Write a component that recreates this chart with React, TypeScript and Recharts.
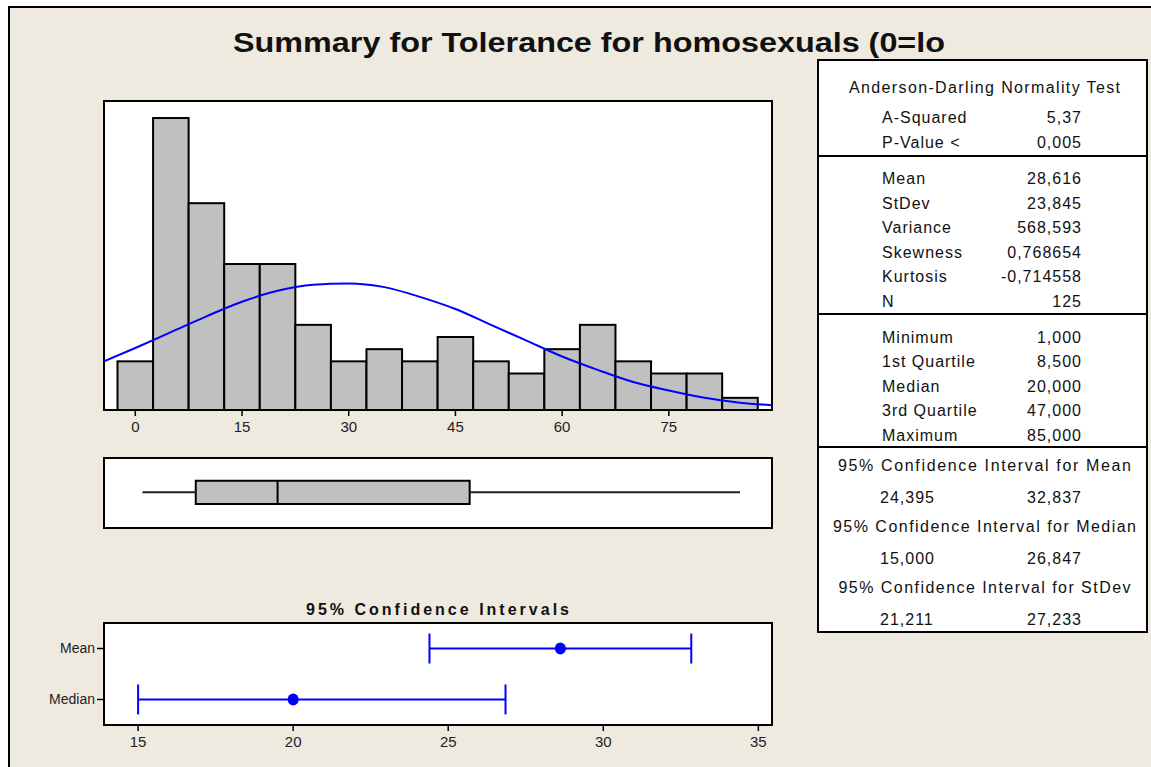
import {
  ComposedChart,
  Bar,
  Line,
  XAxis,
  YAxis,
  ReferenceArea,
  ReferenceLine,
  ScatterChart,
  Scatter,
  ErrorBar,
} from 'recharts';

// Histogram: bin centers (width 5) and counts, N = 125
const BIN_CENTERS = [0, 5, 10, 15, 20, 25, 30, 35, 40, 45, 50, 55, 60, 65, 70, 75, 80, 85];
const BIN_COUNTS = [4, 24, 17, 12, 12, 7, 4, 5, 4, 6, 4, 3, 5, 7, 4, 3, 3, 1];
// fitted normal curve (in counts)
const CURVE_X = [-4.4, 0, 5, 10, 15, 20, 25, 30, 35, 40, 45, 50, 55, 60, 65, 70, 75, 80, 85, 89.5];
const CURVE_Y = [4.0, 5.1, 6.4, 7.7, 8.9, 9.8, 10.3, 10.4, 10.1, 9.3, 8.3, 7.0, 5.7, 4.4, 3.3, 2.3, 1.6, 1.0, 0.6, 0.4];
const HIST_TICKS = [0, 15, 30, 45, 60, 75];
const X_DOMAIN: [number, number] = [-4.4, 89.5];
const Y_MAX = 25.4;

// boxplot five-number summary
const BOX_STATS = { min: 1, q1: 8.5, median: 20, q3: 47, max: 85 };

// 95% confidence intervals
const CI_NAMES = ['Mean', 'Median'];
const CI_EST = [28.616, 20];
const CI_LOW = [24.395, 15];
const CI_HIGH = [32.837, 26.847];
const CI_TICKS = [15, 20, 25, 30, 35];
const CI_DOMAIN: [number, number] = [13.9, 35.44];

// summary table
const AD_ROWS = [
  ['A-Squared', '5,37'],
  ['P-Value <', '0,005'],
];
const MOMENT_ROWS = [
  ['Mean', '28,616'],
  ['StDev', '23,845'],
  ['Variance', '568,593'],
  ['Skewness', '0,768654'],
  ['Kurtosis', '-0,714558'],
  ['N', '125'],
];
const QUANTILE_ROWS = [
  ['Minimum', '1,000'],
  ['1st Quartile', '8,500'],
  ['Median', '20,000'],
  ['3rd Quartile', '47,000'],
  ['Maximum', '85,000'],
];
const CI_TABLE = [
  ['95% Confidence Interval for Mean', '24,395', '32,837'],
  ['95% Confidence Interval for Median', '15,000', '26,847'],
  ['95% Confidence Interval for StDev', '21,211', '27,233'],
];

const TITLE = 'Summary for Tolerance for homosexuals (0=lo';

const FONT = '"Liberation Sans", Arial, sans-serif';
const BG = '#EEEAE0';
const BAR_FILL = '#C0C0C0';
const BLUE = '#0000FF';
const INK = '#111';

const HIST = { left: 104, top: 101, width: 668, height: 309 };
const PX_PER_UNIT = HIST.width / (X_DOMAIN[1] - X_DOMAIN[0]);
const BIN_W = BIN_CENTERS[1] - BIN_CENTERS[0];

const histData = CURVE_X.map((x, i) => {
  const bi = BIN_CENTERS.indexOf(x);
  return { x, curve: CURVE_Y[i], count: bi >= 0 ? BIN_COUNTS[bi] : undefined };
});

const ciData = CI_NAMES.map((name, i) => ({
  name,
  est: CI_EST[i],
  err: [CI_EST[i] - CI_LOW[i], CI_HIGH[i] - CI_EST[i]],
}));

function HistBar(props: any) {
  const { x, y, width, height } = props;
  if (!height || height <= 0) return null;
  const w = BIN_W * PX_PER_UNIT;
  const cx = x + width / 2;
  return <rect x={cx - w / 2} y={y} width={w} height={height} fill={BAR_FILL} stroke="#000" strokeWidth={2} />;
}

function CiDot(props: any) {
  const { cx, cy } = props;
  return <ellipse cx={cx} cy={cy} rx={5.5} ry={6} fill={BLUE} />;
}

function frame(left: number, top: number, width: number, height: number) {
  return {
    position: 'absolute' as const,
    left,
    top,
    width,
    height,
    boxSizing: 'border-box' as const,
    border: '2px solid #000',
    background: '#fff',
  };
}

const textStyle = { fontFamily: FONT, fill: INK };

export default function App() {
  const labelX = 882;
  const valueX = 1082;
  return (
    <div style={{ position: 'absolute', left: 0, top: 0, width: 1151, height: 767, overflow: 'hidden', background: '#fff' }}>
      <div
        style={{
          position: 'absolute',
          left: 8,
          top: 6,
          width: 1150,
          height: 770,
          background: BG,
          borderLeft: '2px solid #000',
          borderTop: '2px solid #000',
        }}
      />

      {/* plot frames */}
      <div style={frame(103, 100, 670, 311)} />
      <div style={frame(103, 457, 670, 72)} />
      <div style={frame(103, 622, 670, 104)} />

      {/* histogram with normal fit */}
      <div style={{ position: 'absolute', left: HIST.left, top: HIST.top }}>
        <ComposedChart width={HIST.width} height={HIST.height + 30} data={histData} margin={{ top: 0, right: 0, bottom: 0, left: 0 }}>
          <XAxis
            type="number"
            dataKey="x"
            domain={X_DOMAIN}
            allowDataOverflow
            ticks={HIST_TICKS}
            interval={0}
            axisLine={false}
            tickLine={{ stroke: '#000', strokeWidth: 1.5 }}
            tickSize={6}
            tickMargin={5}
            height={30}
            tick={{ fontSize: 15, fill: '#222', fontFamily: FONT }}
          />
          <YAxis type="number" hide domain={[0, Y_MAX]} allowDataOverflow />
          <Bar dataKey="count" shape={HistBar} isAnimationActive={false} />
          <Line type="monotone" dataKey="curve" stroke={BLUE} strokeWidth={2} dot={false} isAnimationActive={false} />
        </ComposedChart>
      </div>

      {/* boxplot */}
      <div style={{ position: 'absolute', left: 104, top: 459 }}>
        <ComposedChart width={668} height={68} data={[{ x: BOX_STATS.min }, { x: BOX_STATS.max }]} margin={{ top: 0, right: 0, bottom: 0, left: 0 }}>
          <XAxis type="number" dataKey="x" hide domain={X_DOMAIN} allowDataOverflow />
          <YAxis type="number" hide domain={[0, 1]} allowDataOverflow />
          <ReferenceLine segment={[{ x: BOX_STATS.min, y: 0.51 }, { x: BOX_STATS.q1, y: 0.51 }]} stroke="#222" strokeWidth={2} />
          <ReferenceLine segment={[{ x: BOX_STATS.q3, y: 0.51 }, { x: BOX_STATS.max, y: 0.51 }]} stroke="#222" strokeWidth={2} />
          <ReferenceArea x1={BOX_STATS.q1} x2={BOX_STATS.q3} y1={0.34} y2={0.68} fill={BAR_FILL} fillOpacity={1} stroke="#000" strokeWidth={2} />
          <ReferenceLine segment={[{ x: BOX_STATS.median, y: 0.34 }, { x: BOX_STATS.median, y: 0.68 }]} stroke="#000" strokeWidth={2} />
        </ComposedChart>
      </div>

      {/* confidence intervals */}
      <div style={{ position: 'absolute', left: 0, top: 623 }}>
        <ScatterChart width={772} height={102 + 35} margin={{ top: 0, right: 0, bottom: 0, left: 0 }}>
          <XAxis
            type="number"
            dataKey="est"
            domain={CI_DOMAIN}
            allowDataOverflow
            ticks={CI_TICKS}
            interval={0}
            axisLine={false}
            tickLine={{ stroke: '#000', strokeWidth: 1.5 }}
            tickSize={6}
            tickMargin={5}
            height={35}
            tick={{ fontSize: 15, fill: '#222', fontFamily: FONT }}
          />
          <YAxis
            type="category"
            dataKey="name"
            reversed
            width={104}
            axisLine={false}
            tickLine={{ stroke: '#000', strokeWidth: 1.5 }}
            tickSize={7}
            tickMargin={2}
            tick={{ fontSize: 14, fill: '#222', fontFamily: FONT }}
          />
          <Scatter data={ciData} shape={CiDot} isAnimationActive={false}>
            <ErrorBar dataKey="err" direction="x" width={15} stroke={BLUE} strokeWidth={2} isAnimationActive={false} />
          </Scatter>
        </ScatterChart>
      </div>

      {/* titles and summary table */}
      <svg width={1151} height={767} style={{ position: 'absolute', left: 0, top: 0, pointerEvents: 'none' }}>
        <text x={589} y={52} textAnchor="middle" textLength={712} lengthAdjust="spacingAndGlyphs" fontSize={27} fontWeight="bold" style={textStyle}>
          {TITLE}
        </text>
        <text x={437.5} y={615} textAnchor="middle" textLength={263} lengthAdjust="spacing" fontSize={16} fontWeight="bold" style={textStyle}>
          95% Confidence Intervals
        </text>

        <rect x={818} y={60} width={329} height={572} fill="#fff" stroke="#000" strokeWidth={2} />
        <line x1={818} x2={1147} y1={156} y2={156} stroke="#000" strokeWidth={2} />
        <line x1={818} x2={1147} y1={314} y2={314} stroke="#000" strokeWidth={2} />
        <line x1={818} x2={1147} y1={447} y2={447} stroke="#000" strokeWidth={2} />

        <g fontSize={16} style={textStyle}>
          <text x={984.5} y={93} textAnchor="middle" textLength={271} lengthAdjust="spacing">
            Anderson-Darling Normality Test
          </text>
          {AD_ROWS.map((r, i) => (
            <g key={r[0]}>
              <text x={labelX} y={123 + i * 25} letterSpacing={1}>{r[0]}</text>
              <text x={valueX} y={123 + i * 25} textAnchor="end" letterSpacing={1}>{r[1]}</text>
            </g>
          ))}
          {MOMENT_ROWS.map((r, i) => (
            <g key={r[0]}>
              <text x={labelX} y={184 + i * 24.5} letterSpacing={1}>{r[0]}</text>
              <text x={valueX} y={184 + i * 24.5} textAnchor="end" letterSpacing={1}>{r[1]}</text>
            </g>
          ))}
          {QUANTILE_ROWS.map((r, i) => (
            <g key={r[0]}>
              <text x={labelX} y={342.5 + i * 24.6} letterSpacing={1}>{r[0]}</text>
              <text x={valueX} y={342.5 + i * 24.6} textAnchor="end" letterSpacing={1}>{r[1]}</text>
            </g>
          ))}
          {CI_TABLE.map((r, i) => (
            <g key={r[0]}>
              <text x={984.5} y={471 + i * 61} textAnchor="middle" textLength={[293, 303, 292][i]} lengthAdjust="spacing">
                {r[0]}
              </text>
              <text x={880} y={503 + i * 61} letterSpacing={1}>{r[1]}</text>
              <text x={valueX} y={503 + i * 61} textAnchor="end" letterSpacing={1}>{r[2]}</text>
            </g>
          ))}
        </g>
      </svg>
    </div>
  );
}
